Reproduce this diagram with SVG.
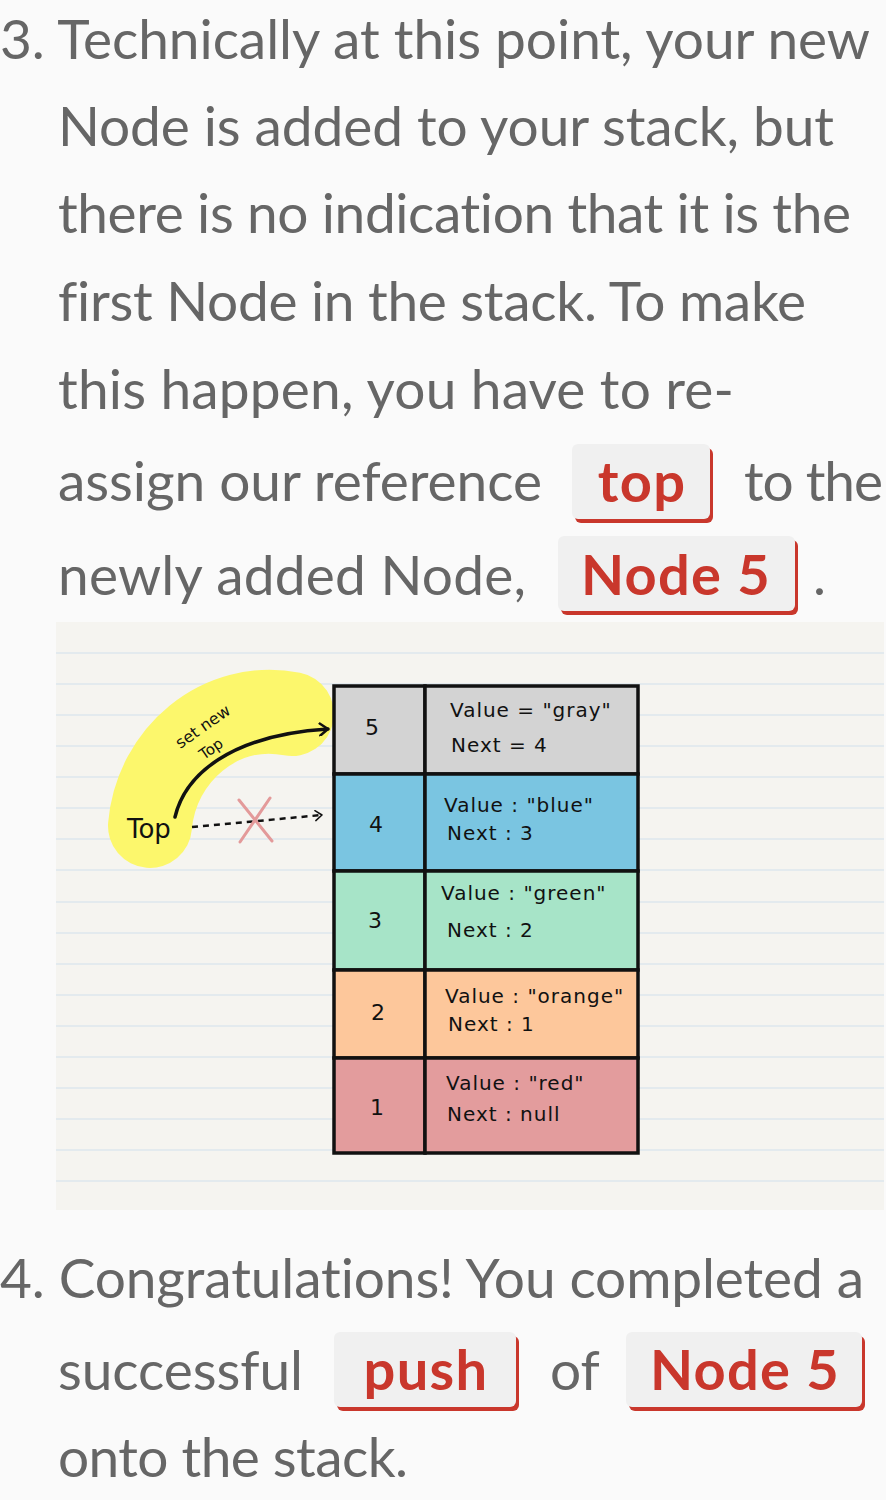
<svg xmlns="http://www.w3.org/2000/svg" width="886" height="1500" viewBox="0 0 886 1500">
<defs>
<style>
text{font-variant-ligatures:none}
.t{font-family:Lato,"Open Sans",sans-serif;font-size:55px;fill:#666666}
.b{font-family:Lato,"Open Sans",sans-serif;font-size:56px;font-weight:700;fill:#c9372c;text-anchor:middle;letter-spacing:1.3px}
.bg{fill:#f0f0f0}
.br{fill:#c9372c}
.rule{stroke:#dde7ee;stroke-width:1.5}
.hw{font-family:"DejaVu Sans",sans-serif;fill:#111111}
.cell{stroke:#111111;stroke-width:3.5}
.num{font-family:"DejaVu Sans",sans-serif;font-size:22px;fill:#111111;text-anchor:middle}
.val{font-family:"DejaVu Sans",sans-serif;font-size:20px;fill:#111111;letter-spacing:1px}
</style>
<marker id="chev" viewBox="0 0 12 14" refX="10" refY="7" markerWidth="12" markerHeight="14" markerUnits="userSpaceOnUse" orient="auto">
<path d="M2,1 L10,7 L2,13" fill="none" stroke="#111" stroke-width="2.5" stroke-linecap="round" stroke-linejoin="round"/>
</marker>
<marker id="chev2" viewBox="0 0 12 14" refX="10" refY="7" markerWidth="10" markerHeight="12" markerUnits="userSpaceOnUse" orient="auto">
<path d="M2,1 L10,7 L2,13" fill="none" stroke="#111" stroke-width="1.8" stroke-linecap="round" stroke-linejoin="round"/>
</marker>
</defs>
<rect x="0" y="0" width="886" height="1500" fill="#fafafa"/>

<g id="text-step3">
<text class="t" x="0" y="59" textLength="870" lengthAdjust="spacing">3. Technically at this point, your new</text>
<text class="t" x="58" y="146" textLength="776" lengthAdjust="spacing">Node is added to your stack, but</text>
<text class="t" x="58" y="233" textLength="793" lengthAdjust="spacing">there is no indication that it is the</text>
<text class="t" x="58" y="321" textLength="748" lengthAdjust="spacing">first Node in the stack. To make</text>
<text class="t" x="58" y="409" textLength="676" lengthAdjust="spacing">this happen, you have to re-</text>
<text class="t" x="58" y="501" textLength="484" lengthAdjust="spacing">assign our reference</text>
<text class="t" x="744" y="501" textLength="139" lengthAdjust="spacing">to the</text>
<text class="t" x="58" y="595" textLength="468" lengthAdjust="spacing">newly added Node,</text>
<text class="t" x="813" y="595">.</text>
</g>

<g id="badge-top">
<rect class="br" x="575" y="448" width="138" height="75" rx="6"/>
<rect class="bg" x="572" y="444" width="138" height="75" rx="6"/>
<text class="b" x="642" y="502">top</text>
</g>
<g id="badge-node5-a">
<rect class="br" x="561" y="540" width="237" height="75" rx="6"/>
<rect class="bg" x="558" y="536" width="237" height="75" rx="6"/>
<text class="b" x="676" y="595">Node 5</text>
</g>

<g id="diagram">
<rect x="56" y="622" width="828" height="588" fill="#f5f4f0"/>
<g id="rules">
<line class="rule" x1="56" y1="653" x2="884" y2="653"/>
<line class="rule" x1="56" y1="684" x2="884" y2="684"/>
<line class="rule" x1="56" y1="715" x2="884" y2="715"/>
<line class="rule" x1="56" y1="746" x2="884" y2="746"/>
<line class="rule" x1="56" y1="777" x2="884" y2="777"/>
<line class="rule" x1="56" y1="808" x2="884" y2="808"/>
<line class="rule" x1="56" y1="839" x2="884" y2="839"/>
<line class="rule" x1="56" y1="870" x2="884" y2="870"/>
<line class="rule" x1="56" y1="902" x2="884" y2="902"/>
<line class="rule" x1="56" y1="933" x2="884" y2="933"/>
<line class="rule" x1="56" y1="964" x2="884" y2="964"/>
<line class="rule" x1="56" y1="995" x2="884" y2="995"/>
<line class="rule" x1="56" y1="1026" x2="884" y2="1026"/>
<line class="rule" x1="56" y1="1057" x2="884" y2="1057"/>
<line class="rule" x1="56" y1="1088" x2="884" y2="1088"/>
<line class="rule" x1="56" y1="1119" x2="884" y2="1119"/>
<line class="rule" x1="56" y1="1150" x2="884" y2="1150"/>
<line class="rule" x1="56" y1="1181" x2="884" y2="1181"/>
</g>

<path id="highlight" d="M150,826 C156,755 220,700 292,714" fill="none" stroke="#fcf76c" stroke-width="84" stroke-linecap="round"/>

<g id="label-top">
<text class="hw" x="127" y="838" font-size="26">Top</text>
</g>
<g id="label-setnew">
<text class="hw" font-size="16" text-anchor="middle" transform="translate(206,731) rotate(-35)">set new</text>
<text class="hw" font-size="15" text-anchor="middle" transform="translate(214,753) rotate(-35)">Top</text>
</g>

<g id="connectors">
<path d="M175,817 C185,775 230,735 328,729" fill="none" stroke="#111" stroke-width="3.5" stroke-linecap="round" marker-end="url(#chev)"/>
<path d="M192,827 L322,815" fill="none" stroke="#111" stroke-width="2.5" stroke-dasharray="6,5" marker-end="url(#chev2)"/>
<path d="M239,800 L272,841 M270,798 L240,842" stroke="#e39a9a" stroke-width="3" fill="none" stroke-linecap="round"/>
</g>

<g id="stack">
<g id="node5">
<rect class="cell" x="334" y="686" width="91" height="88" fill="#d3d3d3"/>
<rect class="cell" x="425" y="686" width="213" height="88" fill="#d3d3d3"/>
<text class="num" x="372" y="735">5</text>
<text class="val" x="450" y="717">Value = "gray"</text>
<text class="val" x="451" y="752">Next =  4</text>
</g>
<g id="node4">
<rect class="cell" x="334" y="774" width="91" height="97" fill="#7ac5e1"/>
<rect class="cell" x="425" y="774" width="213" height="97" fill="#7ac5e1"/>
<text class="num" x="376" y="832">4</text>
<text class="val" x="444" y="812">Value : "blue"</text>
<text class="val" x="447" y="840">Next :  3</text>
</g>
<g id="node3">
<rect class="cell" x="334" y="871" width="91" height="99" fill="#a7e4c8"/>
<rect class="cell" x="425" y="871" width="213" height="99" fill="#a7e4c8"/>
<text class="num" x="375" y="928">3</text>
<text class="val" x="441" y="900">Value : "green"</text>
<text class="val" x="447" y="937">Next :  2</text>
</g>
<g id="node2">
<rect class="cell" x="334" y="970" width="91" height="88" fill="#fdc79b"/>
<rect class="cell" x="425" y="970" width="213" height="88" fill="#fdc79b"/>
<text class="num" x="378" y="1020">2</text>
<text class="val" x="445" y="1003">Value : "orange"</text>
<text class="val" x="448" y="1031">Next :  1</text>
</g>
<g id="node1">
<rect class="cell" x="334" y="1058" width="91" height="95" fill="#e39c9d"/>
<rect class="cell" x="425" y="1058" width="213" height="95" fill="#e39c9d"/>
<text class="num" x="377" y="1115">1</text>
<text class="val" x="446" y="1090">Value : "red"</text>
<text class="val" x="447" y="1121">Next :  null</text>
</g>
</g>
</g>

<g id="text-step4">
<text class="t" x="0" y="1298" textLength="864" lengthAdjust="spacing">4. Congratulations! You completed a</text>
<text class="t" x="58" y="1390" textLength="245" lengthAdjust="spacing">successful</text>
<text class="t" x="550" y="1390">of</text>
<text class="t" x="58" y="1477" textLength="350" lengthAdjust="spacing">onto the stack.</text>
</g>
<g id="badge-push">
<rect class="br" x="337" y="1336" width="182" height="75" rx="6"/>
<rect class="bg" x="334" y="1332" width="182" height="75" rx="6"/>
<text class="b" x="426" y="1390">push</text>
</g>
<g id="badge-node5-b">
<rect class="br" x="629" y="1336" width="236" height="75" rx="6"/>
<rect class="bg" x="626" y="1332" width="236" height="75" rx="6"/>
<text class="b" x="745" y="1390">Node 5</text>
</g>
</svg>
